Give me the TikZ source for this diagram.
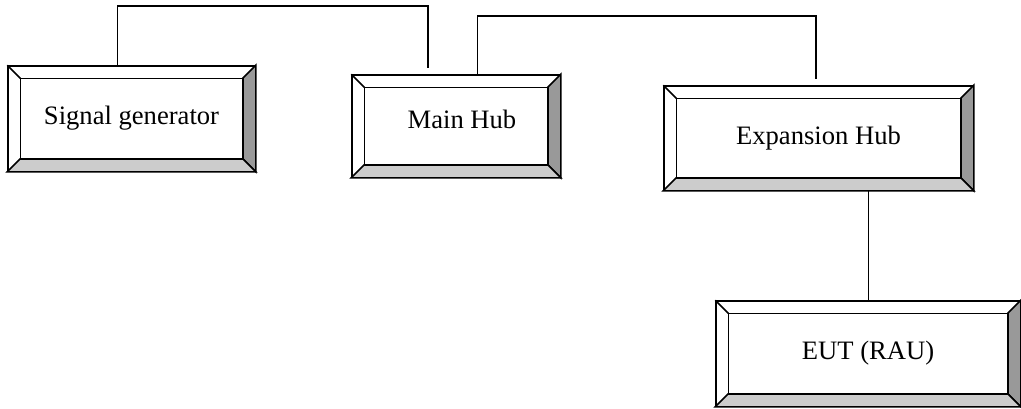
\documentclass[tikz,border=0pt]{standalone}
\usepackage{fontspec}
\setmainfont{Liberation Serif}
\usepackage{tikz}
\usetikzlibrary{positioning, calc}

\definecolor{bevelright}{HTML}{999999}
\definecolor{bevelbottom}{HTML}{CCCCCC}

\tikzset{
  hubbox/.style={draw, fill=white, line width=0.75pt, inner sep=0pt,
    font=\fontsize{13.3}{16}\selectfont},
  wire/.style={draw, line width=0.6pt}
}

% bevelled frame round a box node
\newcommand{\bevel}[1]{%
  \filldraw[fill=bevelright, line width=0.75pt] (#1.north east) -- (#1.south east)
    -- ([shift={(-13,-13)}]#1.south east) -- ([shift={(-13,13)}]#1.north east) -- cycle;
  \filldraw[fill=bevelbottom, line width=0.75pt] (#1.south west) -- (#1.south east)
    -- ([shift={(-13,-13)}]#1.south east) -- ([shift={(13,-13)}]#1.south west) -- cycle;
  \draw[line width=0.75pt] ([shift={(13,13)}]#1.north west) rectangle ([shift={(-13,-13)}]#1.south east);
  \draw[line width=0.75pt] (#1.north west) -- ++(13,13);
}

\begin{document}
\begin{tikzpicture}[x=0.5pt, y=-0.5pt]
			\useasboundingbox (0,0) rectangle (1021,408);

			\node (gen) [hubbox, minimum width=123.5pt, minimum height=52.5pt] at (131.5,118.5) {Signal generator};
			\node (main) [hubbox, minimum width=104pt, minimum height=51pt] at (456,126) {\hspace{6pt}\raisebox{7pt}{Main Hub}};
			\node (exp) [hubbox, minimum width=154.5pt, minimum height=52pt] at (818.5,138) {Expansion Hub};
			\node (eut) [hubbox, minimum width=152pt, minimum height=52.5pt] at (868,353.5) {EUT (RAU)};
			\bevel{gen}
			\bevel{main}
			\bevel{exp}
			\bevel{eut}

			\coordinate (mainin) at (428,68);
			\coordinate (expin) at (816,79);

			\draw[wire] (gen.north west) ++(110,0) |- (428,6) -- (mainin);
			\draw[wire] (main.north west) ++(126,0) |- (816,16) -- (expin);
			\draw[wire] (exp.south west) ++(205,0) coordinate (expout) -- (expout |- eut.north);
		\end{tikzpicture}
\end{document}
